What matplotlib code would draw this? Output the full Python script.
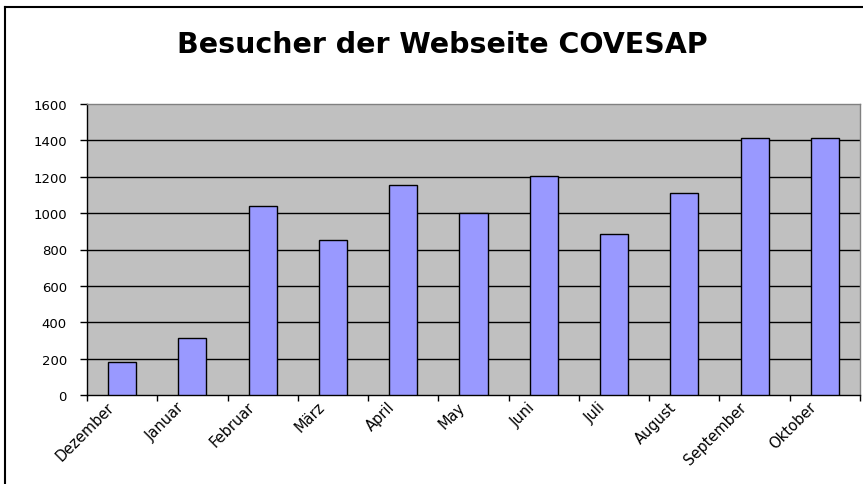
import matplotlib
matplotlib.use("Agg")
import matplotlib.pyplot as plt
from matplotlib.lines import Line2D
from matplotlib.transforms import ScaledTranslation
import numpy as np

months = ["Dezember", "Januar", "Februar", "März", "April", "May", "Juni",
          "Juli", "August", "September", "Oktober"]
visitors = [180, 315, 1040, 853, 1155, 1000, 1205, 883, 1110, 1415, 1415]
yticks = [0, 200, 400, 600, 800, 1000, 1200, 1400, 1600]

plt.rcParams['font.family'] = ['DejaVu Sans']

W, H = 863, 485
fig = plt.figure(figsize=(W / 100, H / 100), dpi=100)
fig.patch.set_facecolor('white')

ax = fig.add_axes([87 / W, 1 - 396 / H, (860 - 87) / W, (396 - 105) / H])
ax.set_facecolor('#C0C0C0')

x = np.arange(len(months))
ax.bar(x, visitors, width=0.4, color='#9999FF', edgecolor='black', linewidth=1.0, zorder=3)

ax.set_xlim(-0.5, len(months) - 0.5)
ax.set_ylim(0, 1600)
ax.set_yticks(yticks)
ax.set_yticklabels([str(v) for v in yticks], fontsize=9.5)
for v in yticks[1:-1]:
    ax.axhline(v, color='black', linewidth=1.0, zorder=1)

ax.set_xticks(np.arange(-0.5, len(months), 1.0))
ax.set_xticklabels([])
ax.set_xticks(x, minor=True)
ax.set_xticklabels(months, minor=True, fontsize=10.5, rotation=45, ha='right',
                   va='top', rotation_mode='anchor')
ax.tick_params(axis='x', which='minor', length=0, pad=0)
ax.tick_params(axis='x', which='major', length=4, width=1, direction='out')
ax.tick_params(axis='y', length=5, width=1, direction='out', pad=9.5)

off = ScaledTranslation(-16 / 100, -4 / 100, fig.dpi_scale_trans)
for lbl in ax.get_xticklabels(minor=True):
    lbl.set_transform(lbl.get_transform() + off)

for s in ['top', 'right']:
    ax.spines[s].set_color('#808080')
    ax.spines[s].set_linewidth(1.0)
for s in ['left', 'bottom']:
    ax.spines[s].set_color('black')
    ax.spines[s].set_linewidth(1.0)

fig.text(442 / W, 1 - 53 / H, "Besucher der Webseite COVESAP", ha='center', va='baseline',
         fontsize=20.5, fontweight='bold')

# chart frame (left and top edges visible)
fig.add_artist(Line2D([5 / W, 5 / W], [0, 1 - 8 / H], color='black', linewidth=1.5,
                      transform=fig.transFigure))
fig.add_artist(Line2D([5 / W, 1], [1 - 8 / H, 1 - 8 / H], color='black', linewidth=1.5,
                      transform=fig.transFigure))

fig.savefig("out.png", dpi=100)
